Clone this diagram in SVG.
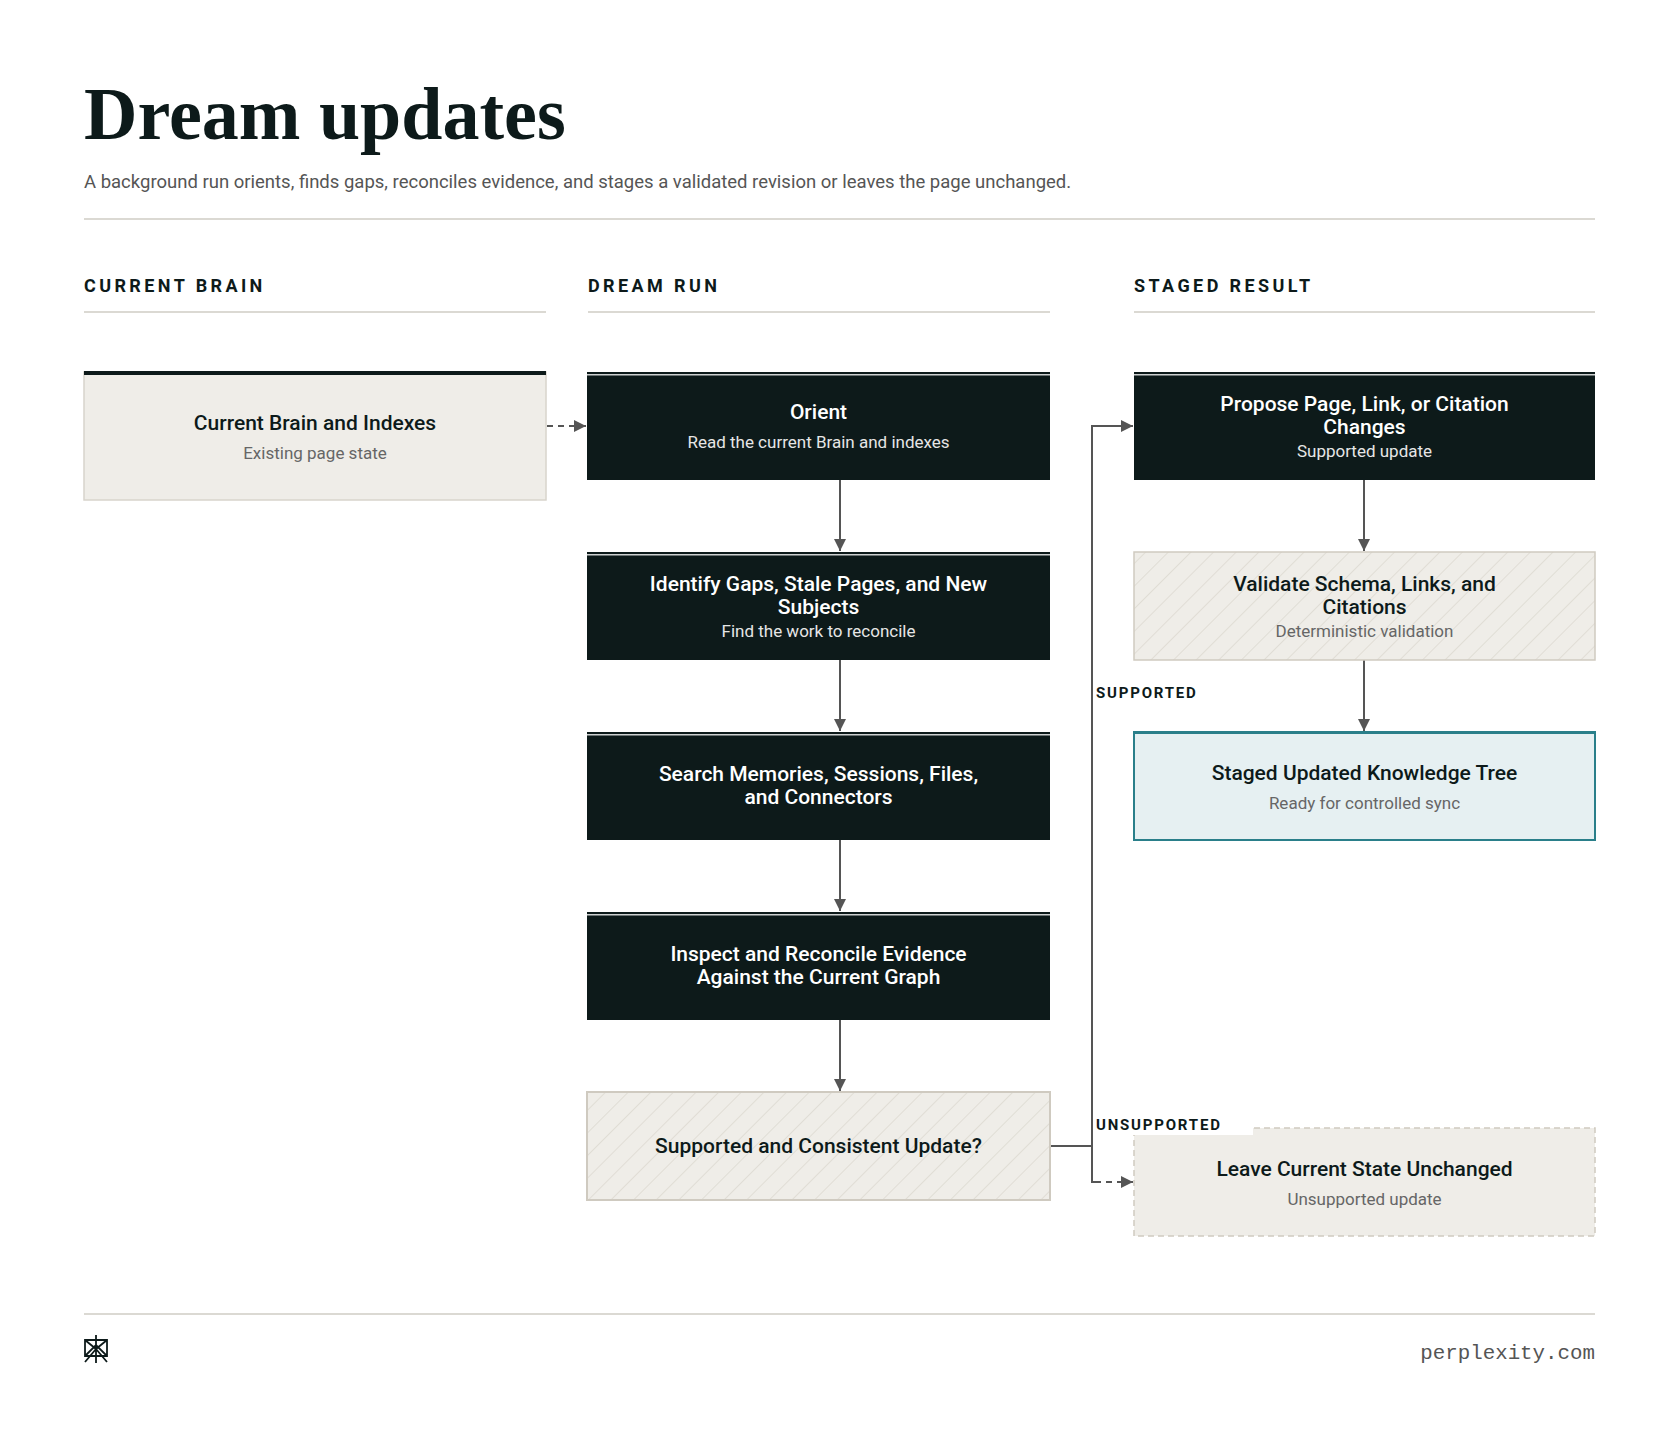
<svg xmlns="http://www.w3.org/2000/svg" width="1680" height="1448" viewBox="0 0 1680 1448">
<defs>
<style>
.h{font-family:"Liberation Serif",serif;font-weight:700;fill:#0d1a1a}
.sub{font-family:Roboto,"Liberation Sans",sans-serif;font-size:18.5px;fill:#555}
.col{font-family:Roboto,"Liberation Sans",sans-serif;font-size:18px;font-weight:700;letter-spacing:3.4px;fill:#0d1a1a}
.rule{stroke:#cfccc5;stroke-width:1.5}
.t{font-family:Roboto,"Liberation Sans",sans-serif;font-size:21px;font-weight:500;text-anchor:middle}
.s{font-family:Roboto,"Liberation Sans",sans-serif;font-size:17px;text-anchor:middle}
.dk rect.b{fill:#0d1a1a}
.dk .t{fill:#fff}.dk .s{fill:#e6e6e6}
.lt .t{fill:#0d1a1a}.lt .s{fill:#666}
.lbl{font-family:Roboto,"Liberation Sans",sans-serif;font-size:15px;font-weight:700;letter-spacing:1.8px;fill:#0d1a1a}
.c{stroke:#555;stroke-width:2;fill:none}
.d{stroke-dasharray:6 5}
</style>
<pattern id="hatch" width="16" height="16" patternUnits="userSpaceOnUse" patternTransform="rotate(45)">
<rect width="16" height="16" fill="#efede8"/>
<line x1="0" y1="0" x2="0" y2="16" stroke="#dcd8cf" stroke-width="1.5"/>
</pattern>
<marker id="ah" viewBox="0 0 10 10" refX="10" refY="5" markerWidth="12" markerHeight="12" orient="auto" markerUnits="userSpaceOnUse">
<path d="M0,0 L10,5 L0,10 z" fill="#555"/>
</marker>
</defs>
<rect width="1680" height="1448" fill="#fff"/>
<text class="h" x="84" y="139" font-size="74">Dream updates</text>
<text class="sub" x="84" y="188">A background run orients, finds gaps, reconciles evidence, and stages a validated revision or leaves the page unchanged.</text>
<line class="rule" x1="84" y1="219" x2="1595" y2="219"/>
<text class="col" x="84" y="292">CURRENT BRAIN</text>
<text class="col" x="588" y="292">DREAM RUN</text>
<text class="col" x="1134" y="292">STAGED RESULT</text>
<line class="rule" x1="84" y1="312" x2="546" y2="312"/>
<line class="rule" x1="588" y1="312" x2="1050" y2="312"/>
<line class="rule" x1="1134" y1="312" x2="1595" y2="312"/>

<g id="connectors">
<line class="c d" x1="547" y1="426" x2="586" y2="426" marker-end="url(#ah)"/>
<line class="c" x1="840" y1="480" x2="840" y2="551" marker-end="url(#ah)"/>
<line class="c" x1="840" y1="660" x2="840" y2="731" marker-end="url(#ah)"/>
<line class="c" x1="840" y1="840" x2="840" y2="911" marker-end="url(#ah)"/>
<line class="c" x1="840" y1="1020" x2="840" y2="1091" marker-end="url(#ah)"/>
<line class="c" x1="1364" y1="480" x2="1364" y2="551" marker-end="url(#ah)"/>
<line class="c" x1="1364" y1="660" x2="1364" y2="731" marker-end="url(#ah)"/>
<polyline class="c" points="1050,1146 1092,1146 1092,426 1133,426" marker-end="url(#ah)"/>
<polyline class="c" points="1092,1146 1092,1182 1095,1182"/>
<line class="c d" x1="1095" y1="1182" x2="1133" y2="1182" marker-end="url(#ah)"/>
</g>

<g id="current-brain" class="lt">
<rect x="84" y="372" width="462" height="128" fill="#efede8" stroke="#d8d4cc" stroke-width="1.5"/>
<rect x="84" y="371" width="462" height="4" fill="#0d1a1a"/>
<text class="t" x="315" y="430">Current Brain and Indexes</text>
<text class="s" x="315" y="459">Existing page state</text>
</g>

<g id="orient" class="dk">
<rect class="b" x="587" y="372" width="463" height="108"/><rect x="587" y="374" width="463" height="1.5" fill="#fff" opacity="0.8"/>
<text class="t" x="818.5" y="419">Orient</text>
<text class="s" x="818.5" y="448">Read the current Brain and indexes</text>
</g>
<g id="identify" class="dk">
<rect class="b" x="587" y="552" width="463" height="108"/><rect x="587" y="554" width="463" height="1.5" fill="#fff" opacity="0.8"/>
<text class="t" x="818.5" y="591">Identify Gaps, Stale Pages, and New</text>
<text class="t" x="818.5" y="614">Subjects</text>
<text class="s" x="818.5" y="637">Find the work to reconcile</text>
</g>
<g id="search" class="dk">
<rect class="b" x="587" y="732" width="463" height="108"/><rect x="587" y="734" width="463" height="1.5" fill="#fff" opacity="0.8"/>
<text class="t" x="818.5" y="781">Search Memories, Sessions, Files,</text>
<text class="t" x="818.5" y="804">and Connectors</text>
</g>
<g id="inspect" class="dk">
<rect class="b" x="587" y="912" width="463" height="108"/><rect x="587" y="914" width="463" height="1.5" fill="#fff" opacity="0.8"/>
<text class="t" x="818.5" y="961">Inspect and Reconcile Evidence</text>
<text class="t" x="818.5" y="984">Against the Current Graph</text>
</g>
<g id="decision" class="lt">
<rect x="587" y="1092" width="463" height="108" fill="url(#hatch)" stroke="#cfcac0" stroke-width="2"/>
<text class="t" x="818.5" y="1153">Supported and Consistent Update?</text>
</g>

<g id="propose" class="dk">
<rect class="b" x="1134" y="372" width="461" height="108"/><rect x="1134" y="374" width="461" height="1.5" fill="#fff" opacity="0.8"/>
<text class="t" x="1364.5" y="411">Propose Page, Link, or Citation</text>
<text class="t" x="1364.5" y="434">Changes</text>
<text class="s" x="1364.5" y="457">Supported update</text>
</g>
<g id="validate" class="lt">
<rect x="1134" y="552" width="461" height="108" fill="url(#hatch)" stroke="#cfcac0" stroke-width="1.5"/>
<text class="t" x="1364.5" y="591">Validate Schema, Links, and</text>
<text class="t" x="1364.5" y="614">Citations</text>
<text class="s" x="1364.5" y="637">Deterministic validation</text>
</g>
<g id="staged" class="lt">
<rect x="1134" y="732" width="461" height="108" fill="#e6f0f2" stroke="#2a7f8a" stroke-width="2"/>
<rect x="1134" y="731" width="461" height="3" fill="#2a7f8a"/>
<text class="t" x="1364.5" y="780">Staged Updated Knowledge Tree</text>
<text class="s" x="1364.5" y="809">Ready for controlled sync</text>
</g>
<g id="leave" class="lt">
<rect x="1134" y="1128" width="461" height="108" fill="#efede8" stroke="#cfcac0" stroke-width="1.5" stroke-dasharray="6 4"/>
<text class="t" x="1364.5" y="1176">Leave Current State Unchanged</text>
<text class="s" x="1364.5" y="1205">Unsupported update</text>
</g>

<g id="labels">
<rect x="1093" y="681" width="120" height="22" fill="#fff"/>
<text class="lbl" x="1096" y="698">SUPPORTED</text>
<rect x="1093" y="1113" width="160" height="22" fill="#fff"/>
<text class="lbl" x="1096" y="1130">UNSUPPORTED</text>
</g>

<line class="rule" x1="84" y1="1314" x2="1595" y2="1314"/>
<g id="logo" stroke="#0d1a1a" stroke-width="1.8" fill="none">
<path d="M96,1335 V1363 M85,1340 L96,1349 L107,1340 M85,1340 H107 V1356 H85 Z M96,1349 L85,1362 M96,1349 L107,1362 M85,1356 L96,1345 L107,1356"/>
</g>
<text x="1595" y="1359" text-anchor="end" font-family="'Liberation Mono',monospace" font-size="20.8" fill="#555">perplexity.com</text>
</svg>
